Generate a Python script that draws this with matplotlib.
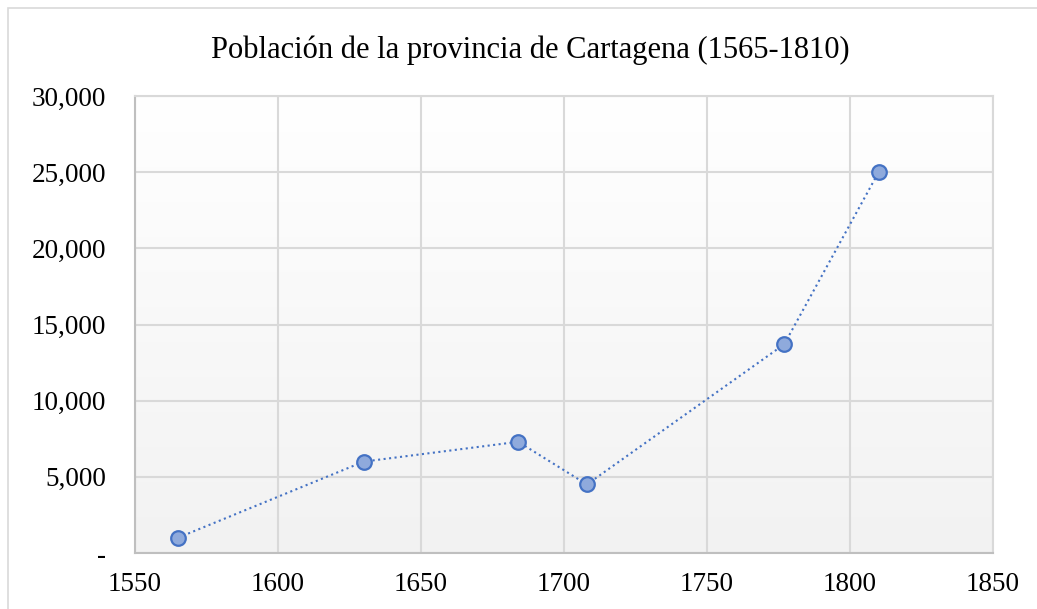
import numpy as np
import matplotlib.pyplot as plt
from matplotlib.colors import LinearSegmentedColormap
from matplotlib.patches import Rectangle
from matplotlib.ticker import FuncFormatter

# Data
years = [1565, 1630, 1684, 1708, 1777, 1810]
population = [1000, 6000, 7300, 4500, 13700, 25000]

x_ticks = [1550, 1600, 1650, 1700, 1750, 1800, 1850]
y_ticks = [0, 5000, 10000, 15000, 20000, 25000, 30000]

plt.rcParams["font.family"] = ["Liberation Serif", "DejaVu Serif"]

fig = plt.figure(figsize=(10.37, 6.09), dpi=100)
ax = fig.add_axes([135 / 1037, 1 - 553 / 609, 858 / 1037, 457 / 609])

# Outer chart frame
fig.patches.append(Rectangle((8 / 1037, -0.1), 1.2, 1.1 - 8 / 609,
                             transform=fig.transFigure, fill=False,
                             edgecolor="#d9d9d9", linewidth=1.2))

# Gradient plot area: white at top, light grey at bottom
grad = np.linspace(1.0, 0.0, 256).reshape(-1, 1)
bg_cmap = LinearSegmentedColormap.from_list("bg", ["#f2f2f2", "#ffffff"])
ax.imshow(grad, extent=[0, 1, 0, 1], transform=ax.transAxes, aspect="auto",
          cmap=bg_cmap, zorder=0)

ax.plot(years, population, linestyle=":", color="#4472c4", linewidth=1.5,
        marker="o", markersize=10.5, markerfacecolor="#8faadc",
        markeredgecolor="#4472c4", markeredgewidth=1.6, zorder=3)

ax.set_xlim(1550, 1850)
ax.set_ylim(0, 30000)
ax.set_xticks(x_ticks)
ax.set_yticks(y_ticks)
ax.yaxis.set_major_formatter(FuncFormatter(lambda v, p: "-" if v == 0 else f"{int(v):,}"))
ax.tick_params(length=0, labelsize=19.5)
ax.tick_params(axis="y", pad=21)
ax.tick_params(axis="x", pad=14)

ax.grid(True, color="#d9d9d9", linewidth=1.5, zorder=1)
ax.set_axisbelow(True)
for side in ["top", "right"]:
    ax.spines[side].set_color("#d9d9d9")
    ax.spines[side].set_linewidth(1.5)
for side in ["left", "bottom"]:
    ax.spines[side].set_color("#bfbfbf")
    ax.spines[side].set_linewidth(1.5)

fig.text(0.511, 1 - 50 / 609, "Población de la provincia de Cartagena (1565-1810)",
         ha="center", va="center", fontsize=22)

fig.savefig("out.png", dpi=100)
